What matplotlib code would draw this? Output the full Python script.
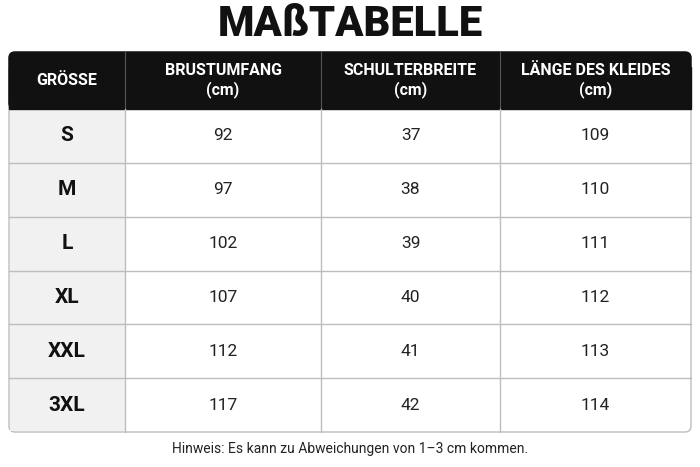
import matplotlib
matplotlib.use("Agg")
import matplotlib.pyplot as plt
from matplotlib.patches import FancyBboxPatch, Rectangle

title = "MAßTABELLE"
headers = ["GRÖSSE", "BRUSTUMFANG\n(cm)", "SCHULTERBREITE\n(cm)", "LÄNGE DES KLEIDES\n(cm)"]
sizes = ["S", "M", "L", "XL", "XXL", "3XL"]
brust = [92, 97, 102, 107, 112, 117]
schulter = [37, 38, 39, 40, 41, 42]
laenge = [109, 110, 111, 112, 113, 114]
note = "Hinweis: Es kann zu Abweichungen von 1–3 cm kommen."

plt.rcParams['font.family'] = ['Roboto', 'DejaVu Sans']
fig = plt.figure(figsize=(7, 4.67), dpi=100)
ax = fig.add_axes([0, 0, 1, 1])
ax.set_xlim(0, 700); ax.set_ylim(467, 0); ax.axis('off')

cols = [9, 125, 321, 500, 691]
top, hdr_bot, bot = 52, 109, 432
rh = (bot - hdr_bot) / len(sizes)
grid = '#bdbdbd'

# table body
ax.add_patch(FancyBboxPatch((cols[0], top), cols[-1]-cols[0], bot-top,
             boxstyle="round,pad=0,rounding_size=6", fc='white', ec=grid, lw=1, zorder=1))
ax.add_patch(Rectangle((cols[0]+0.5, hdr_bot), cols[1]-cols[0]-0.5, bot-hdr_bot-1,
             fc='#f1f1f1', ec='none', zorder=1.5))
# header
ax.add_patch(FancyBboxPatch((cols[0], top), cols[-1]-cols[0], hdr_bot-top,
             boxstyle="round,pad=0,rounding_size=6", fc='#111111', ec='#111111', zorder=2))
ax.add_patch(Rectangle((cols[0], top+15), cols[-1]-cols[0], hdr_bot-top-15,
             fc='#111111', ec='#111111', zorder=2))
for x in cols[1:-1]:
    ax.plot([x, x], [top, hdr_bot], color='#555555', lw=0.8, zorder=3)
    ax.plot([x, x], [hdr_bot, bot], color=grid, lw=1, zorder=3)
for i in range(1, len(sizes)):
    y = hdr_bot + i*rh
    ax.plot([cols[0], cols[-1]], [y, y], color=grid, lw=1, zorder=3)

for j, h in enumerate(headers):
    ax.text((cols[j]+cols[j+1])/2, (top+hdr_bot)/2, h, color='white', ha='center',
            va='center', fontsize=11.5, fontweight='bold', linespacing=1.3, zorder=4)

for i, s in enumerate(sizes):
    yc = hdr_bot + (i+0.5)*rh
    ax.text((cols[0]+cols[1])/2, yc, s, ha='center', va='center', fontsize=15,
            fontweight='bold', color='#111111', zorder=4)
    for j, v in enumerate([brust[i], schulter[i], laenge[i]]):
        ax.text((cols[j+1]+cols[j+2])/2, yc, str(v), ha='center', va='center',
                fontsize=12.5, color='#222222', zorder=4)

ax.text(350, 25, title, ha='center', va='center', fontsize=30, fontweight='black',
        color='#111111')
ax.text(350, 449, note, ha='center', va='center', fontsize=10, color='#222222')
fig.savefig('out.png', dpi=100)
